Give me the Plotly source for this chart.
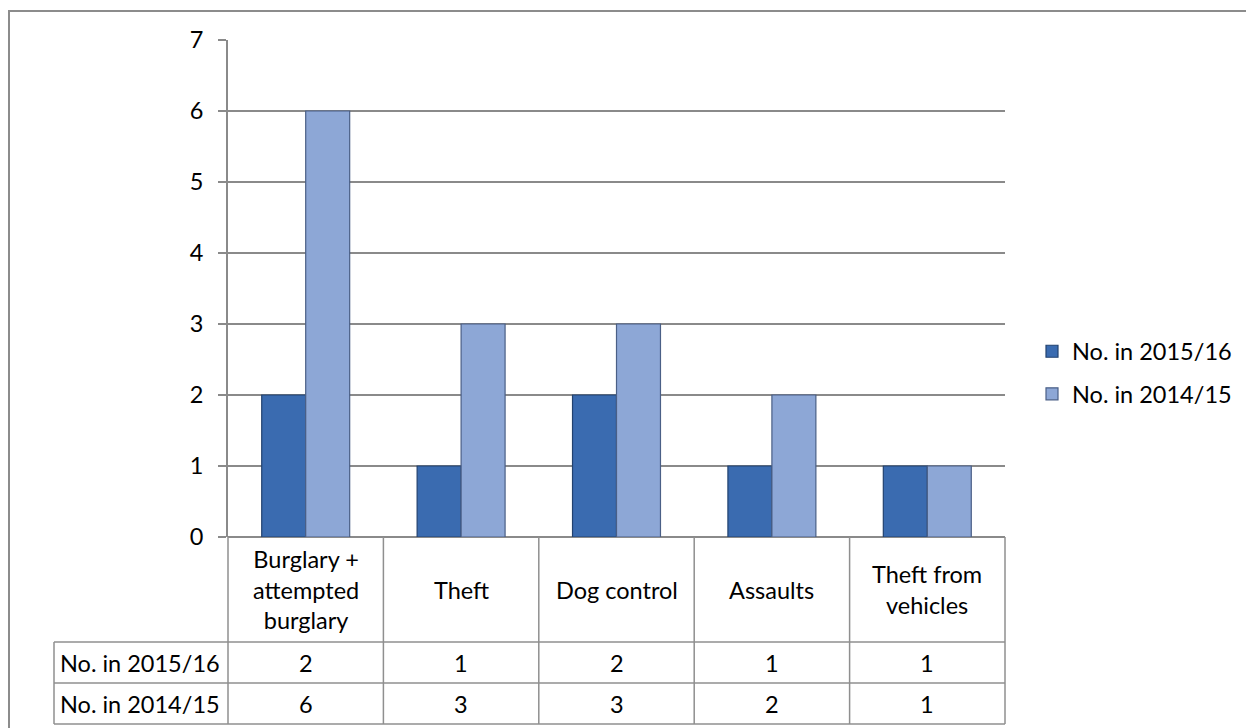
import plotly.graph_objects as go

categories = ["Burglary +<br>attempted<br>burglary", "Theft", "Dog control", "Assaults", "Theft from<br>vehicles"]
series_names = ["No. in 2015/16", "No. in 2014/15"]
values_2015_16 = [2, 1, 2, 1, 1]
values_2014_15 = [6, 3, 3, 2, 1]
y_ticks = [0, 1, 2, 3, 4, 5, 6, 7]

FONT = "Lato, Carlito, Calibri, 'DejaVu Sans', sans-serif"
FS = 23.5
W, H = 1246, 728
L, R, T, B = 228, 1005, 40, 537
GRID = "#8a8a8a"
TABLE = "#8f8f8f"

def xp(px):
    return (px - L) / (R - L)

def yp(py):
    return (B - py) / (B - T)

x_idx = list(range(len(categories)))

fig = go.Figure()
fig.add_trace(go.Bar(
    x=x_idx, y=values_2015_16, name=series_names[0], legendgroup="a",
    marker=dict(color="#3A6BB0", line=dict(color="#22426f", width=1.2)),
))
fig.add_trace(go.Bar(
    x=x_idx, y=values_2014_15, name=series_names[1], legendgroup="b",
    marker=dict(color="#8DA7D6", line=dict(color="#4a5f86", width=1.2)),
))

shapes = []
# outer chart border
shapes.append(dict(type="rect", xref="paper", yref="paper",
                   x0=xp(9), x1=xp(1270), y0=yp(11), y1=yp(770),
                   line=dict(color="#8c8c8c", width=2), layer="below"))

n = len(categories)
row_lines = [642, 683, 724]
for py in row_lines:
    shapes.append(dict(type="line", xref="paper", yref="paper",
                       x0=xp(54), x1=1, y0=yp(py), y1=yp(py),
                       line=dict(color=TABLE, width=1.5)))
for k in range(n + 1):
    shapes.append(dict(type="line", xref="paper", yref="paper",
                       x0=k / n, x1=k / n, y0=yp(B), y1=yp(row_lines[-1]),
                       line=dict(color=TABLE, width=1.5)))
shapes.append(dict(type="line", xref="paper", yref="paper",
                   x0=xp(54), x1=xp(54), y0=yp(row_lines[0]), y1=yp(row_lines[-1]),
                   line=dict(color=TABLE, width=1.5)))

annotations = []
header_mid = (B + row_lines[0]) / 2
for i, c in enumerate(categories):
    annotations.append(dict(x=i, xref="x", y=yp(header_mid), yref="paper",
                            xanchor="center", yanchor="middle",
                            text=c, showarrow=False, align="center",
                            font=dict(family=FONT, size=FS, color="#000")))
rows = [values_2015_16, values_2014_15]
for r, (name, vals) in enumerate(zip(series_names, rows)):
    mid = (row_lines[r] + row_lines[r + 1]) / 2
    annotations.append(dict(x=xp(58), xref="paper", y=yp(mid), yref="paper",
                            text=name, showarrow=False, xanchor="left", yanchor="middle",
                            font=dict(family=FONT, size=FS, color="#000")))
    for i, v in enumerate(vals):
        annotations.append(dict(x=i, xref="x", y=yp(mid), yref="paper",
                                xanchor="center", yanchor="middle",
                                text=str(v), showarrow=False,
                                font=dict(family=FONT, size=FS, color="#000")))

fig.update_layout(
    width=W, height=H, autosize=False,
    margin=dict(l=L, r=W - R, t=T, b=H - B, pad=0, autoexpand=False),
    paper_bgcolor="white", plot_bgcolor="white",
    barmode="group", bargap=0.434, bargroupgap=0,
    font=dict(family=FONT, size=FS, color="#000"),
    showlegend=True,
    legend=dict(x=xp(1032), y=yp(373), xanchor="left", yanchor="middle",
                font=dict(family=FONT, size=FS, color="#000"),
                itemwidth=30, tracegroupgap=9, bgcolor="rgba(0,0,0,0)"),
    xaxis=dict(range=[-0.5, n - 0.5], showticklabels=False, showgrid=False,
               zeroline=False, showline=False, ticks="", fixedrange=True),
    yaxis=dict(range=[0, 7], tickvals=y_ticks, showgrid=True, gridcolor=GRID,
               gridwidth=1.5, zeroline=True, zerolinecolor=GRID, zerolinewidth=1.5,
               showline=True, linecolor=GRID, linewidth=2,
               ticks="outside", ticklen=8, tickcolor=GRID, tickwidth=1.5,
               ticklabelstandoff=10, fixedrange=True,
               tickfont=dict(family=FONT, size=FS, color="#000")),
    shapes=shapes,
    annotations=annotations,
)

post = ("document.body.style.margin='0';"
        "document.body.style.overflow='hidden';"
        "var gd=document.getElementById('{plot_id}');"
        "gd.style.width='1246px';gd.style.height='728px';"
        "Plotly.relayout(gd,{width:1246,height:728});")

fig.write_html("out.html", config={"responsive": False, "displayModeBar": False},
               post_script=post)
